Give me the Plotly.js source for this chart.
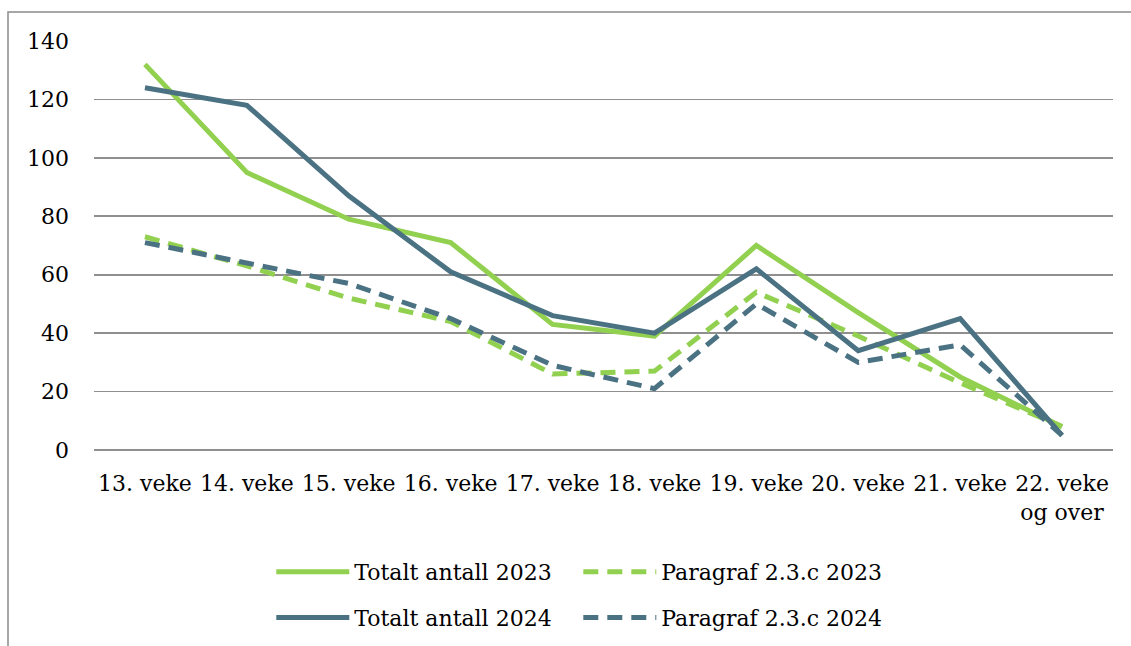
<!DOCTYPE html>
<html>
<head>
<meta charset="utf-8">
<script src="https://cdn.plot.ly/plotly-3.0.1.min.js"></script>
<style>html,body{margin:0;padding:0;background:#fff;}#chart{width:1131px;height:646px;}</style>
</head>
<body>
<div id="chart"></div>
<script>
var categories = ["13. veke", "14. veke", "15. veke", "16. veke", "17. veke", "18. veke", "19. veke", "20. veke", "21. veke", "22. veke<br>og over"];
var totalt2023 = [132, 95, 79, 71, 43, 39, 70, 47, 25, 8];
var totalt2024 = [124, 118, 87, 61, 46, 40, 62, 34, 45, 5];
var paragraf2023 = [73, 63, 52, 44, 26, 27, 54, 39, 23, 8];
var paragraf2024 = [71, 64, 57, 45, 29, 21, 50, 30, 36, 5];
var yTicks = [0, 20, 40, 60, 80, 100, 120, 140];

var green = "#92D050";
var slate = "#4A7282";
var fontFam = "DejaVu Serif, Liberation Serif, serif";

var traces = [
  {x: categories, y: totalt2023, name: "Totalt antall 2023", type: "scatter", mode: "lines",
   line: {color: green, width: 5}, legend: "legend"},
  {x: categories, y: paragraf2023, name: "Paragraf 2.3.c 2023", type: "scatter", mode: "lines",
   line: {color: green, width: 5, dash: "15px,9px"}, legend: "legend"},
  {x: categories, y: totalt2024, name: "Totalt antall 2024", type: "scatter", mode: "lines",
   line: {color: slate, width: 5}, legend: "legend2"},
  {x: categories, y: paragraf2024, name: "Paragraf 2.3.c 2024", type: "scatter", mode: "lines",
   line: {color: slate, width: 5, dash: "15px,9px"}, legend: "legend2"}
];

var legendCommon = {
  orientation: "h", xref: "paper", yref: "paper", xanchor: "left", yanchor: "middle",
  font: {family: fontFam, size: 22, color: "#000"},
  itemwidth: 73, entrywidth: 219, bgcolor: "rgba(0,0,0,0)", traceorder: "normal"
};

var layout = {
  width: 1131, height: 646,
  margin: {l: 94, r: 18, t: 41, b: 196, autoexpand: false},
  paper_bgcolor: "#fff", plot_bgcolor: "#fff",
  font: {family: fontFam, size: 22, color: "#000"},
  showlegend: true,
  legend: Object.assign({}, legendCommon, {x: 0.174, y: -0.298}),
  legend2: Object.assign({}, legendCommon, {x: 0.174, y: -0.41}),
  xaxis: {
    type: "category", range: [-0.5, 9.5], showgrid: false, zeroline: false, showline: false,
    ticks: "", tickfont: {family: fontFam, size: 22, color: "#000"}, ticklabelstandoff: 18,
    automargin: false, fixedrange: true
  },
  yaxis: {
    range: [0, 140], tickvals: yTicks, ticktext: yTicks.map(String),
    showgrid: true, gridcolor: "#8f8f8f", gridwidth: 1.6,
    zeroline: true, zerolinecolor: "#8f8f8f", zerolinewidth: 1.6, showline: false,
    ticks: "", tickfont: {family: fontFam, size: 22, color: "#000"}, ticklabelstandoff: 24,
    automargin: false, fixedrange: true
  },
  shapes: [
    {type: "rect", xref: "paper", yref: "paper",
     x0: (8 - 94) / 1019, x1: (1140 - 94) / 1019, y0: (450 - 660) / 409, y1: 1 + (41 - 12) / 409,
     line: {color: "#8a8a8a", width: 1.5}, fillcolor: "rgba(0,0,0,0)", layer: "below"}
  ]
};

Plotly.newPlot("chart", traces, layout, {displayModeBar: false, staticPlot: true});
</script>
</body>
</html>
